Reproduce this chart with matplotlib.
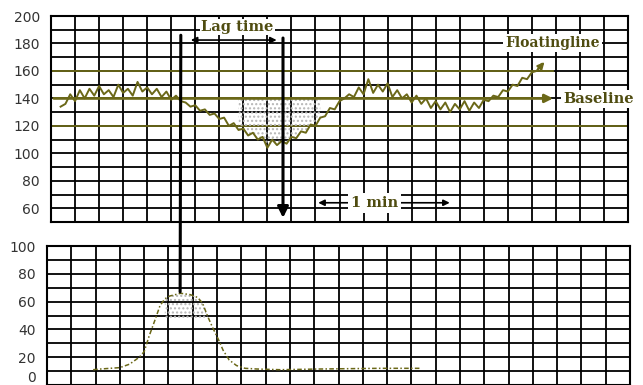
import numpy as np
import matplotlib.pyplot as plt
from matplotlib.patches import ConnectionPatch

# fetal heart rate trace (bpm), one reading every 2 s from t=4 s
fhr_t = np.arange(4, 206, 2)
fhr_bpm = [134, 136, 143, 138, 146, 140, 147, 142, 149, 143,
           146, 141, 150, 144, 147, 142, 152, 145, 148, 143,
           147, 141, 145, 139, 142, 138, 137, 134, 135, 131,
           132, 128, 129, 125, 126, 120, 122, 117, 118, 113,
           115, 110, 112, 104, 110, 106, 109, 107, 112, 111,
           116, 115, 121, 120, 126, 127, 133, 132, 138, 140,
           143, 141, 148, 143, 154, 144, 150, 145, 151, 141,
           146, 140, 143, 137, 142, 136, 140, 133, 138, 132,
           137, 130, 136, 132, 138, 131, 137, 133, 139, 138,
           142, 141, 146, 145, 150, 149, 155, 154, 159, 160,
           165]

# uterine contraction curve
uc_t = [19, 22, 30, 34, 38, 40, 42, 44.5, 46.5, 48.5, 50.5, 55, 59, 62,
        64, 66, 68, 70.5, 72.5, 75, 78, 81.5, 86.5, 96, 112, 137, 154]
uc_val = [11, 11.5, 12.5, 15, 20, 24, 35, 47, 57, 62, 64, 66, 65, 63,
          59, 50, 42, 33, 25, 18, 14, 12, 11.5, 11, 11.5, 12, 12]

baseline_bpm = 140
lag_start, lag_end = 54, 96.5
olive = '#6b6818'
text_olive = '#4f4c10'
label_font = dict(family='DejaVu Serif', weight='bold', color=text_olive)

fig = plt.figure(figsize=(6.43, 3.85), dpi=100)
ax1 = fig.add_axes([0.0793, 0.4234, 0.8974, 0.535])
ax2 = fig.add_axes([0.0731, 0.0, 0.9067, 0.361])

for ax in (ax1, ax2):
    ax.set_xlim(0, 240)
    ax.set_xticks(range(0, 241, 10))
    ax.set_xticklabels([])
    ax.grid(True, which='both', color='black', lw=1.3)
    ax.tick_params(which='both', length=0, labelsize=10, labelcolor='#333333', pad=8)
    ax.set_axisbelow(True)
    for sp in ax.spines.values():
        sp.set_linewidth(1.5)

ax1.set_ylim(50, 200)
ax1.set_yticks(range(60, 201, 20))
ax1.set_yticks(range(50, 201, 10), minor=True)

ax2.set_ylim(0, 100)
ax2.set_yticks(range(0, 101, 20))
ax2.set_yticks(range(0, 101, 10), minor=True)
# keep the bottom "0" inside the picture
ax2.get_yticklabels()[0].set_verticalalignment('bottom')

# olive guide lines
ax1.plot([0, 209], [160, 160], color=olive, lw=1.3, zorder=2)
ax1.plot([0, 240], [120, 120], color=olive, lw=1.3, zorder=2)
ax1.annotate('', xy=(210, baseline_bpm), xytext=(0, baseline_bpm),
             arrowprops=dict(arrowstyle='-|>', color=olive, lw=2, mutation_scale=12), zorder=3)

# stippled area of the deceleration
t_arr = np.array(fhr_t)
b_arr = np.array(fhr_bpm)
sel = (t_arr >= 78) & (t_arr <= 112)
ax1.fill_between(t_arr[sel], b_arr[sel], baseline_bpm, facecolor='none',
                 edgecolor='#b5b5b5', hatch='....', lw=0, zorder=2)

ax1.plot(fhr_t, fhr_bpm, color=olive, lw=1.4, zorder=4)
ax1.annotate('', xy=(206, 168), xytext=(fhr_t[-2], fhr_bpm[-2]),
             arrowprops=dict(arrowstyle='-|>', color=olive, lw=1.4, mutation_scale=10), zorder=4)

# lag time markers
ax1.annotate('', xy=(lag_end, 51), xytext=(lag_end, 186),
             arrowprops=dict(arrowstyle='-|>', color='black', lw=2.2, mutation_scale=16), zorder=5)
ax1.annotate('', xy=(57, 182.5), xytext=(95, 182.5),
             arrowprops=dict(arrowstyle='<|-|>', color='black', lw=1.2, mutation_scale=9), zorder=5)
ax1.text(77.5, 192, 'Lag time', ha='center', va='center', fontsize=10.5,
         bbox=dict(facecolor='white', edgecolor='none', pad=1), zorder=6, **label_font)

# 1 min scale
ax1.annotate('', xy=(110, 64), xytext=(167, 64),
             arrowprops=dict(arrowstyle='<|-|>', color='black', lw=1.2, mutation_scale=9), zorder=5)
ax1.text(134.5, 64, '1 min', ha='center', va='center', fontsize=10.5,
         bbox=dict(facecolor='white', edgecolor='none', pad=2), zorder=6, **label_font)

ax1.text(208.5, 180.5, 'Floatingline', ha='center', va='center', fontsize=10,
         bbox=dict(facecolor='white', edgecolor='none', pad=1.5), zorder=6, **label_font)
ax1.text(213, 139.6, 'Baseline', ha='left', va='center', fontsize=10.5, clip_on=False,
         bbox=dict(facecolor='white', edgecolor='none', pad=1.5), zorder=6, **label_font)

# contraction panel
uc_t_arr = np.array(uc_t)
uc_arr = np.array(uc_val)
sel2 = (uc_t_arr >= 48) & (uc_t_arr <= 66)
ax2.fill_between(uc_t_arr[sel2], uc_arr[sel2], 48, facecolor='none',
                 edgecolor='#b5b5b5', hatch='....', lw=0, zorder=2)
ax2.plot(uc_t, uc_val, color=olive, lw=1.1, ls=(0, (3, 1.5, 1, 1.5)), zorder=4)

# vertical line linking FHR panel to contraction peak
con = ConnectionPatch(xyA=(lag_start, 186), coordsA=ax1.transData,
                      xyB=(54.8, 67), coordsB=ax2.transData,
                      color='black', lw=2.2, zorder=7)
fig.add_artist(con)

fig.savefig('out.png', dpi=100, facecolor='white')
